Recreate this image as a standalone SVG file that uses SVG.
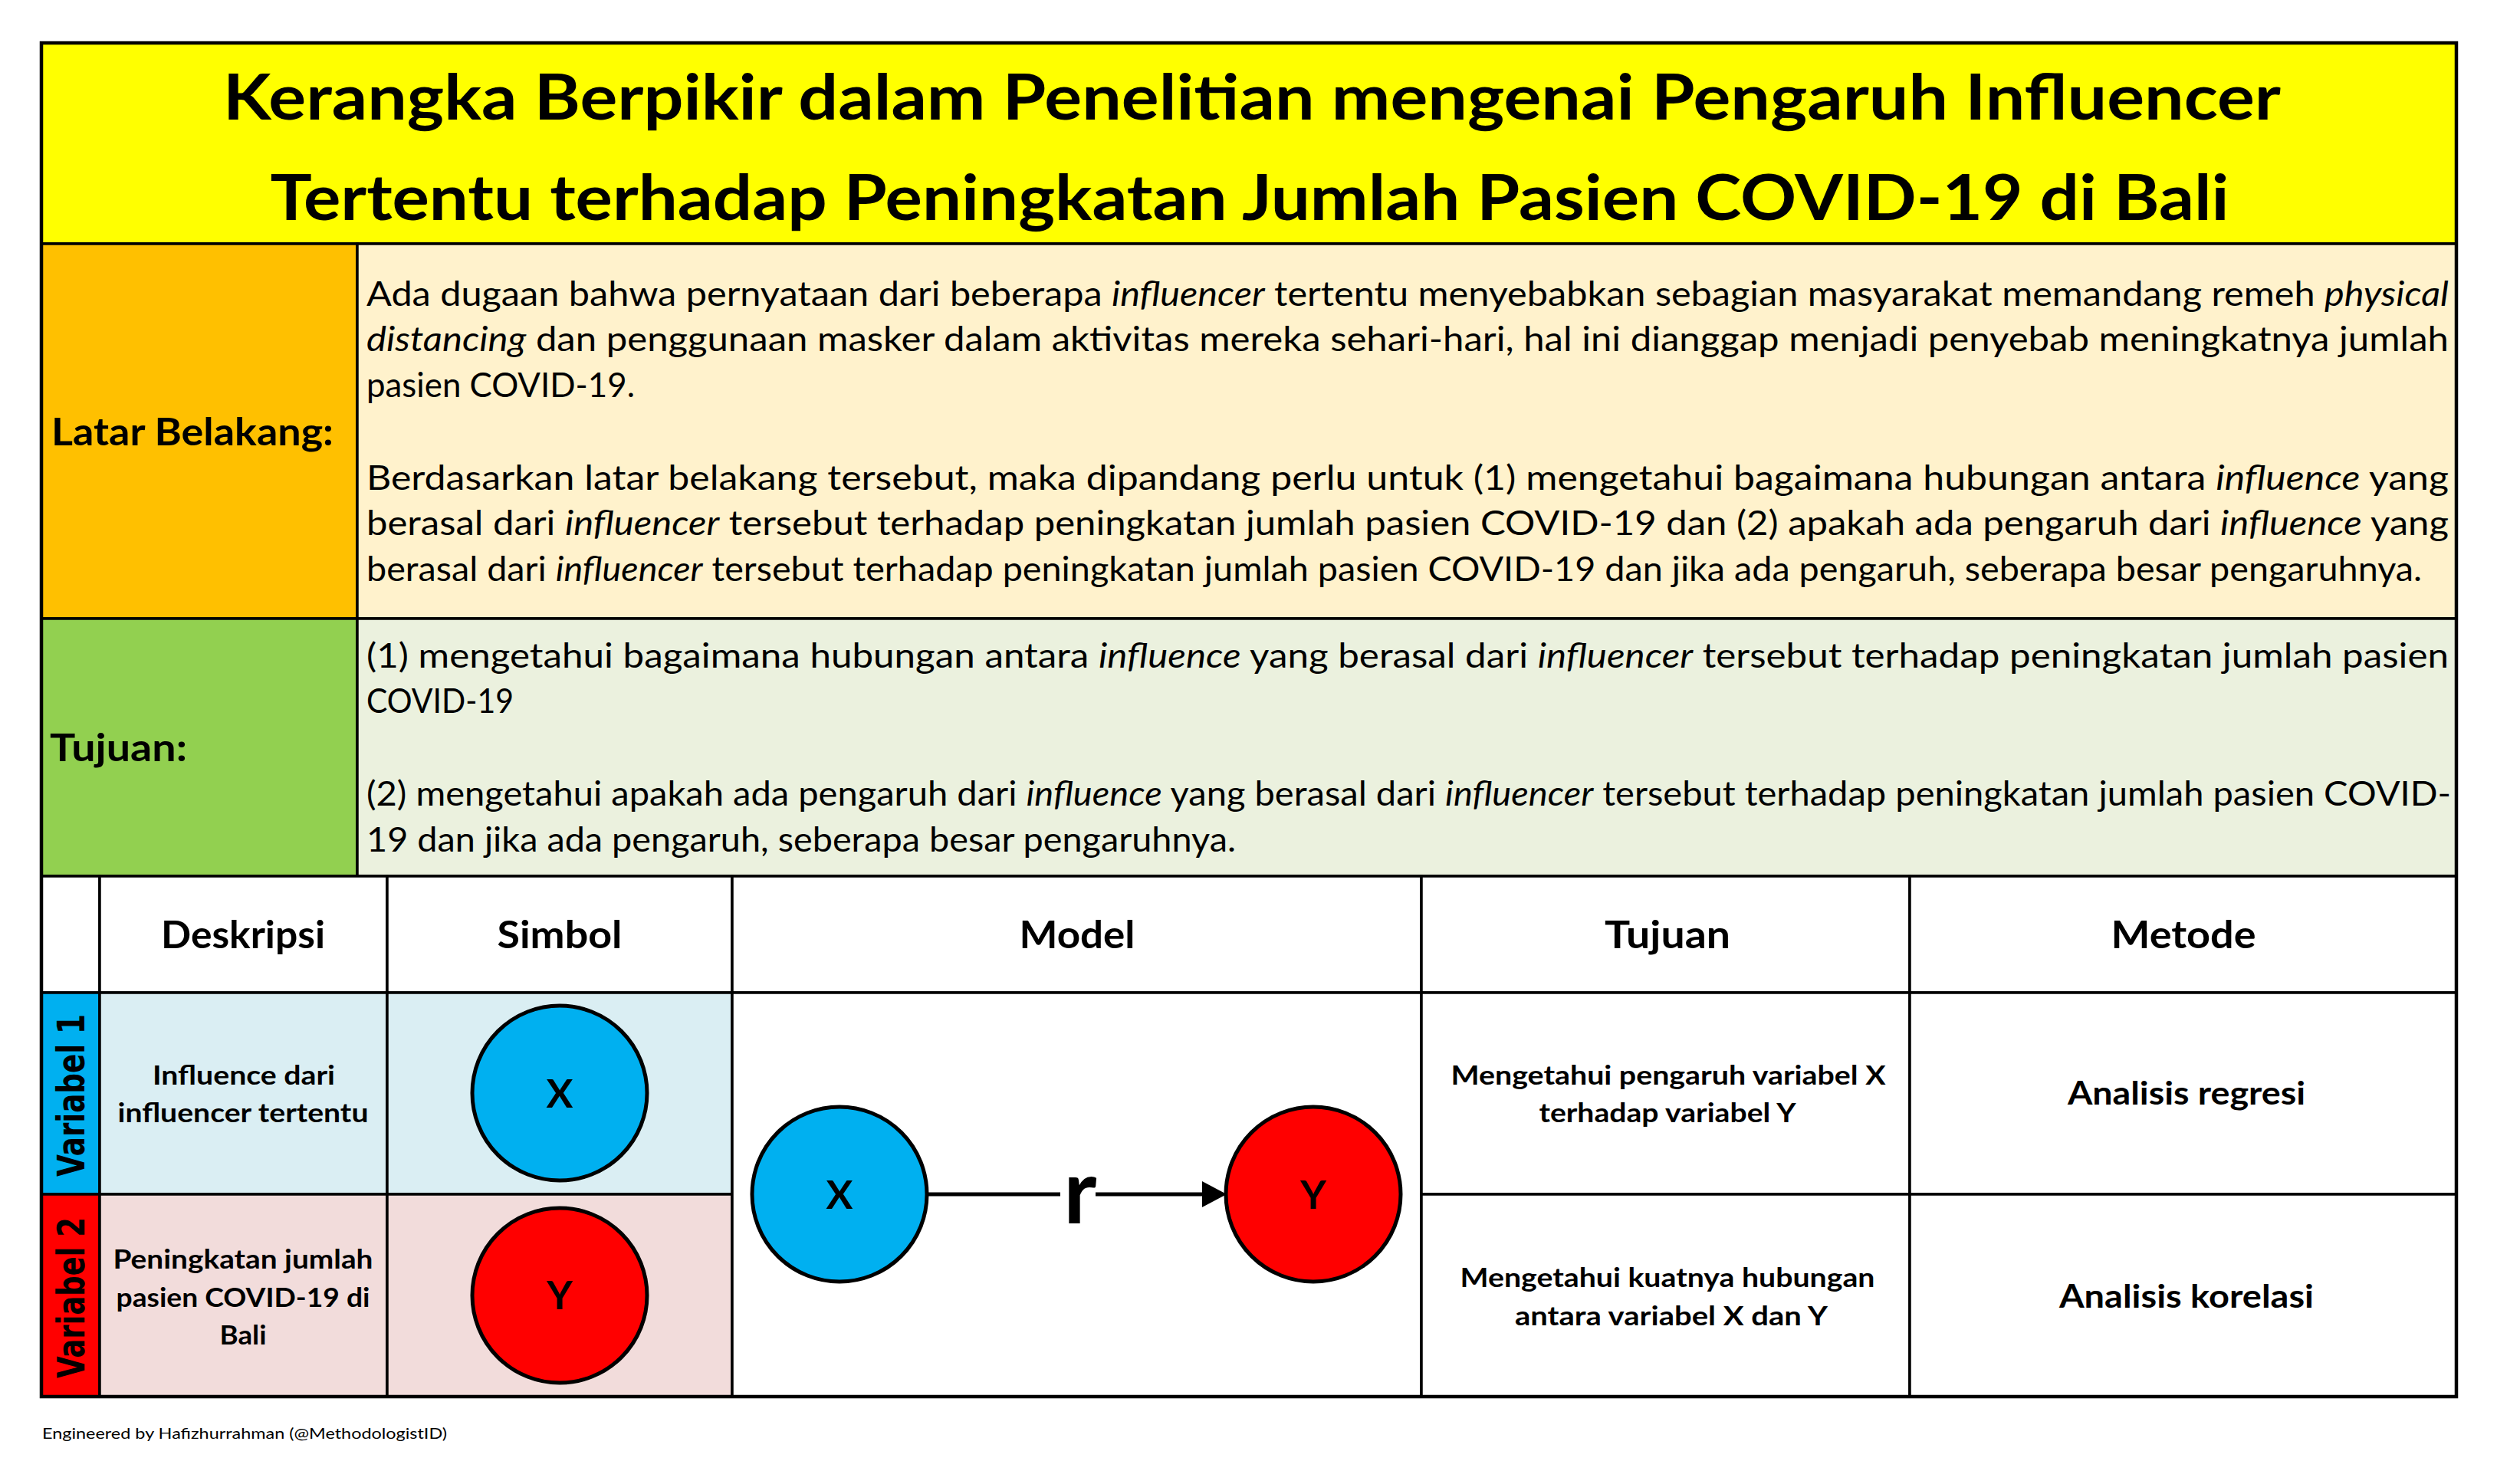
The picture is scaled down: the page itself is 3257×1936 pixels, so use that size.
<svg xmlns="http://www.w3.org/2000/svg" width="3257" height="1936" viewBox="0 0 3257 1936">
<defs>
<style>
.cell{stroke:#000;stroke-width:3.5}
.t{font-family:Lato,"Open Sans","Liberation Sans",sans-serif;fill:#000}
.b{font-weight:bold}
.i{font-style:italic}
.title{font-size:82px;font-weight:bold}
.lab{font-size:50px;font-weight:bold}
.body{font-size:45px}
.hd{font-size:50px;font-weight:bold}
.sm{font-size:35px;font-weight:bold}
.met{font-size:42px;font-weight:bold}
.sym{font-size:52px;font-weight:bold}
.vl{font-family:"DejaVu Sans","Liberation Sans",sans-serif;font-weight:bold;font-size:50px;fill:#000}
.circ{stroke:#000;stroke-width:5}
.conn{stroke:#000;stroke-width:5;fill:none}
</style>
<marker id="arr" viewBox="0 0 32 34" refX="4" refY="17" markerWidth="32" markerHeight="34" markerUnits="userSpaceOnUse" orient="auto">
<path d="M0,0 L32,17 L0,34 Z" fill="#000"/>
</marker>
</defs>
<rect width="3257" height="1936" fill="#fff"/>

<g id="title">
<rect class="cell" x="54" y="56" width="3150" height="262" fill="#FFFF00"/>
<text class="t title" x="1633" y="156" text-anchor="middle" textLength="2684" lengthAdjust="spacingAndGlyphs">Kerangka Berpikir dalam Penelitian mengenai Pengaruh Influencer</text>
<text class="t title" x="1630" y="287" text-anchor="middle" textLength="2555" lengthAdjust="spacingAndGlyphs">Tertentu terhadap Peningkatan Jumlah Pasien COVID-19 di Bali</text>
</g>

<g id="latar-label">
<rect class="cell" x="54" y="318" width="412" height="489" fill="#FFC000"/>
<text class="t lab" x="67" y="581" textLength="368" lengthAdjust="spacingAndGlyphs">Latar Belakang:</text>
</g>

<g id="latar-text">
<rect class="cell" x="466" y="318" width="2738" height="489" fill="#FFF2CC"/>
<text class="t body" x="478" y="399" textLength="2716" lengthAdjust="spacingAndGlyphs">Ada dugaan bahwa pernyataan dari beberapa <tspan class="i">influencer</tspan> tertentu menyebabkan sebagian masyarakat memandang remeh <tspan class="i">physical</tspan></text>
<text class="t body" x="478" y="458" textLength="2716" lengthAdjust="spacingAndGlyphs"><tspan class="i">distancing</tspan> dan penggunaan masker dalam aktivitas mereka sehari-hari, hal ini dianggap menjadi penyebab meningkatnya jumlah</text>
<text class="t body" x="478" y="518" textLength="350" lengthAdjust="spacingAndGlyphs">pasien COVID-19.</text>
<text class="t body" x="478" y="639" textLength="2716" lengthAdjust="spacingAndGlyphs">Berdasarkan latar belakang tersebut, maka dipandang perlu untuk (1) mengetahui bagaimana hubungan antara <tspan class="i">influence</tspan> yang</text>
<text class="t body" x="478" y="698" textLength="2716" lengthAdjust="spacingAndGlyphs">berasal dari <tspan class="i">influencer</tspan> tersebut terhadap peningkatan jumlah pasien COVID-19 dan (2) apakah ada pengaruh dari <tspan class="i">influence</tspan> yang</text>
<text class="t body" x="478" y="758" textLength="2681" lengthAdjust="spacingAndGlyphs">berasal dari <tspan class="i">influencer</tspan> tersebut terhadap peningkatan jumlah pasien COVID-19 dan jika ada pengaruh, seberapa besar pengaruhnya.</text>
</g>

<g id="tujuan-label">
<rect class="cell" x="54" y="807" width="412" height="336" fill="#92D050"/>
<text class="t lab" x="65" y="993" textLength="179" lengthAdjust="spacingAndGlyphs">Tujuan:</text>
</g>

<g id="tujuan-text">
<rect class="cell" x="466" y="807" width="2738" height="336" fill="#EBF1DE"/>
<text class="t body" x="478" y="871" textLength="2716" lengthAdjust="spacingAndGlyphs">(1) mengetahui bagaimana hubungan antara <tspan class="i">influence</tspan> yang berasal dari <tspan class="i">influencer</tspan> tersebut terhadap peningkatan jumlah pasien</text>
<text class="t body" x="478" y="930" textLength="192" lengthAdjust="spacingAndGlyphs">COVID-19</text>
<text class="t body" x="478" y="1051" textLength="2719" lengthAdjust="spacingAndGlyphs">(2) mengetahui apakah ada pengaruh dari <tspan class="i">influence</tspan> yang berasal dari <tspan class="i">influencer</tspan> tersebut terhadap peningkatan jumlah pasien COVID-</text>
<text class="t body" x="478" y="1111" textLength="1134" lengthAdjust="spacingAndGlyphs">19 dan jika ada pengaruh, seberapa besar pengaruhnya.</text>
</g>

<g id="header-row">
<rect class="cell" x="54" y="1143" width="76" height="152" fill="#fff"/>
<rect class="cell" x="130" y="1143" width="375" height="152" fill="#fff"/>
<rect class="cell" x="505" y="1143" width="450" height="152" fill="#fff"/>
<rect class="cell" x="955" y="1143" width="899" height="152" fill="#fff"/>
<rect class="cell" x="1854" y="1143" width="637" height="152" fill="#fff"/>
<rect class="cell" x="2491" y="1143" width="713" height="152" fill="#fff"/>
<text class="t hd" x="317" y="1237" text-anchor="middle" textLength="214" lengthAdjust="spacingAndGlyphs">Deskripsi</text>
<text class="t hd" x="730" y="1237" text-anchor="middle" textLength="163" lengthAdjust="spacingAndGlyphs">Simbol</text>
<text class="t hd" x="1405" y="1237" text-anchor="middle" textLength="151" lengthAdjust="spacingAndGlyphs">Model</text>
<text class="t hd" x="2175" y="1237" text-anchor="middle" textLength="164" lengthAdjust="spacingAndGlyphs">Tujuan</text>
<text class="t hd" x="2848" y="1237" text-anchor="middle" textLength="189" lengthAdjust="spacingAndGlyphs">Metode</text>
</g>

<g id="variabel-1">
<rect class="cell" x="54" y="1295" width="76" height="263" fill="#00B0F0"/>
<text class="vl" transform="translate(110,1429) rotate(-90)" text-anchor="middle" textLength="212" lengthAdjust="spacingAndGlyphs">Variabel 1</text>
<rect class="cell" x="130" y="1295" width="375" height="263" fill="#DAEEF3"/>
<text class="t sm" x="318" y="1415" text-anchor="middle" textLength="238" lengthAdjust="spacingAndGlyphs">Influence dari</text>
<text class="t sm" x="317" y="1464" text-anchor="middle" textLength="327" lengthAdjust="spacingAndGlyphs">influencer tertentu</text>
<rect class="cell" x="505" y="1295" width="450" height="263" fill="#DAEEF3"/>
</g>

<g id="simbol-x">
<circle class="circ" cx="730" cy="1426" r="114" fill="#00B0F0"/>
<text class="t sym" x="730" y="1445" text-anchor="middle">X</text>
</g>

<g id="variabel-2">
<rect class="cell" x="54" y="1558" width="76" height="264" fill="#FF0000"/>
<text class="vl" transform="translate(110,1693) rotate(-90)" text-anchor="middle" textLength="210" lengthAdjust="spacingAndGlyphs">Variabel 2</text>
<rect class="cell" x="130" y="1558" width="375" height="264" fill="#F2DCDB"/>
<text class="t sm" x="317" y="1655" text-anchor="middle" textLength="339" lengthAdjust="spacingAndGlyphs">Peningkatan jumlah</text>
<text class="t sm" x="317" y="1705" text-anchor="middle" textLength="331" lengthAdjust="spacingAndGlyphs">pasien COVID-19 di</text>
<text class="t sm" x="317" y="1754" text-anchor="middle" textLength="61" lengthAdjust="spacingAndGlyphs">Bali</text>
<rect class="cell" x="505" y="1558" width="450" height="264" fill="#F2DCDB"/>
</g>

<g id="simbol-y">
<circle class="circ" cx="730" cy="1690" r="114" fill="#FF0000"/>
<text class="t sym" x="730" y="1708" text-anchor="middle">Y</text>
</g>

<g id="model-cell">
<rect class="cell" x="955" y="1295" width="899" height="527" fill="#fff"/>
</g>

<g id="model-x">
<circle class="circ" cx="1095" cy="1558" r="114" fill="#00B0F0"/>
<text class="t sym" x="1095" y="1577" text-anchor="middle">X</text>
</g>

<g id="model-y">
<circle class="circ" cx="1713" cy="1558" r="114" fill="#FF0000"/>
<text class="t sym" x="1713" y="1577" text-anchor="middle">Y</text>
</g>

<g id="tujuan-1">
<rect class="cell" x="1854" y="1295" width="637" height="263" fill="#fff"/>
<text class="t sm" x="2176" y="1415" text-anchor="middle" textLength="567" lengthAdjust="spacingAndGlyphs">Mengetahui pengaruh variabel X</text>
<text class="t sm" x="2175" y="1464" text-anchor="middle" textLength="335" lengthAdjust="spacingAndGlyphs">terhadap variabel Y</text>
</g>

<g id="tujuan-2">
<rect class="cell" x="1854" y="1558" width="637" height="264" fill="#fff"/>
<text class="t sm" x="2175" y="1679" text-anchor="middle" textLength="541" lengthAdjust="spacingAndGlyphs">Mengetahui kuatnya hubungan</text>
<text class="t sm" x="2180" y="1729" text-anchor="middle" textLength="408" lengthAdjust="spacingAndGlyphs">antara variabel X dan Y</text>
</g>

<g id="metode-1">
<rect class="cell" x="2491" y="1295" width="713" height="263" fill="#fff"/>
<text class="t met" x="2852" y="1441" text-anchor="middle" textLength="310" lengthAdjust="spacingAndGlyphs">Analisis regresi</text>
</g>

<g id="metode-2">
<rect class="cell" x="2491" y="1558" width="713" height="264" fill="#fff"/>
<text class="t met" x="2852" y="1706" text-anchor="middle" textLength="332" lengthAdjust="spacingAndGlyphs">Analisis korelasi</text>
</g>

<g id="connectors">
<path class="conn" d="M1209,1558 H1383 M1429,1558 H1572" marker-end="url(#arr)"/>
<text class="t b" x="1409" y="1596" text-anchor="middle" font-size="116">r</text>
</g>

<rect x="54" y="56" width="3150" height="1766" fill="none" stroke="#000" stroke-width="4.5"/>

<g id="footer">
<text class="t" x="55" y="1877" font-size="20" textLength="528" lengthAdjust="spacingAndGlyphs">Engineered by Hafizhurrahman (@MethodologistID)</text>
</g>
</svg>
